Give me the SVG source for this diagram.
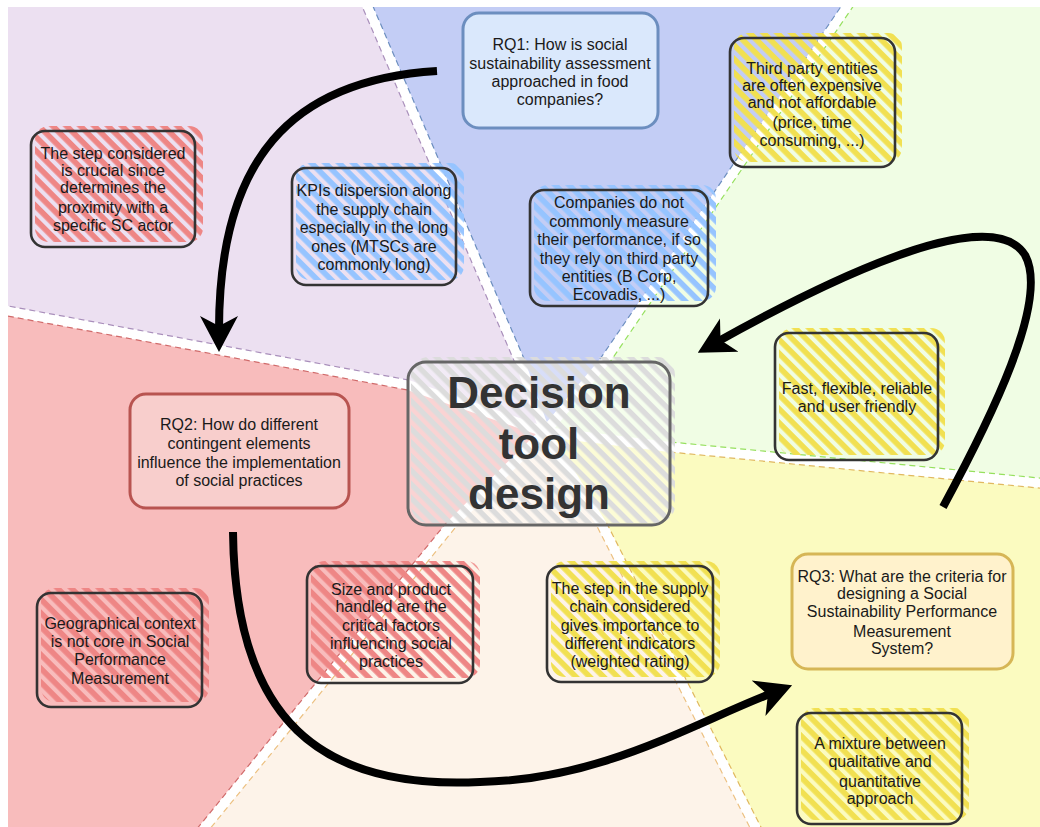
<svg xmlns="http://www.w3.org/2000/svg" width="1040" height="827" viewBox="0 0 1040 827">
<defs>
<style>
.t{font-family:"Liberation Sans",Arial,Helvetica,sans-serif;font-size:16px;fill:#1a1a1a;text-anchor:middle}
.big{font-size:44px;font-weight:bold;fill:#333}
.box{fill:none;stroke:#333;stroke-width:2.6}
.gap{fill:none;stroke:#fff;stroke-width:10;stroke-linejoin:round}
.dash{fill:none;stroke-width:1.2;stroke-dasharray:6 4}
.arrow{fill:none;stroke:#000;stroke-width:8;marker-end:url(#ah)}
</style>
<clipPath id="bg"><rect x="8" y="7" width="1032" height="820"/></clipPath>
<pattern id="hRed" patternUnits="userSpaceOnUse" width="9.8" height="9.8" patternTransform="rotate(45)"><rect width="9.8" height="5.6" fill="#ee8685"/></pattern>
<pattern id="hBlue" patternUnits="userSpaceOnUse" width="9.8" height="9.8" patternTransform="rotate(45)"><rect width="9.8" height="5.6" fill="#96c4ff"/></pattern>
<pattern id="hYel" patternUnits="userSpaceOnUse" width="9.8" height="9.8" patternTransform="rotate(45)"><rect width="9.8" height="5.6" fill="#f1e052"/></pattern>
<pattern id="hGray" patternUnits="userSpaceOnUse" width="9.8" height="9.8" patternTransform="rotate(45)"><rect width="9.8" height="5.4" fill="#dcdcdc"/></pattern>
<marker id="ah" markerUnits="userSpaceOnUse" markerWidth="40" markerHeight="44" viewBox="0 0 40 44" refX="14" refY="22" orient="auto"><path d="M0,3 L36,22 L0,41 L10,22 Z" fill="#000"/></marker>
</defs>

<g id="background" clip-path="url(#bg)">
<polygon fill="#ece0f1" points="545,432 408,385 -30,304 -40,-40 352,-30 520,362"/>
<polygon fill="#c3cdf5" points="545,432 520,362 352,-30 872,-30 604,362"/>
<polygon fill="#f0fde4" points="545,432 604,362 872,-30 1100,-40 1080,487 670,447"/>
<polygon fill="#fbfbc0" points="545,432 670,447 1080,487 1100,900 772,860 602,525"/>
<polygon fill="#fdf3e9" points="545,432 602,525 772,860 178,860 451,525"/>
<polygon fill="#f8bcbc" points="545,432 451,525 178,860 -40,900 -30,304 408,385"/>
<polyline class="gap" points="545,432 520,362 352,-30"/>
<polyline class="gap" points="545,432 604,362 872,-30"/>
<polyline class="gap" points="545,432 670,447 1080,487"/>
<polyline class="gap" points="545,432 602,525 772,860"/>
<polyline class="gap" points="545,432 451,525 178,860"/>
<polyline class="gap" points="545,432 408,385 -30,304"/>
<line class="dash" stroke="#6c8ebf" x1="524.6" y1="360" x2="356.6" y2="-32"/>
<line class="dash" stroke="#a98fbb" x1="515.4" y1="364" x2="347.4" y2="-28"/>
<line class="dash" stroke="#96e05e" x1="608.1" y1="364.8" x2="876.1" y2="-27.2"/>
<line class="dash" stroke="#6c8ebf" x1="599.9" y1="359.2" x2="867.9" y2="-32.8"/>
<line class="dash" stroke="#e0b860" x1="669.5" y1="452" x2="1079.5" y2="492"/>
<line class="dash" stroke="#96e05e" x1="670.5" y1="442" x2="1080.5" y2="482"/>
<line class="dash" stroke="#ecc080" x1="597.5" y1="527.3" x2="767.5" y2="862.3"/>
<line class="dash" stroke="#e0b860" x1="606.5" y1="522.7" x2="776.5" y2="857.7"/>
<line class="dash" stroke="#d06a6a" x1="447.1" y1="521.8" x2="174.1" y2="856.8"/>
<line class="dash" stroke="#ecc080" x1="454.9" y1="528.2" x2="181.9" y2="863.2"/>
<line class="dash" stroke="#a98fbb" x1="408.9" y1="380.1" x2="-29.1" y2="299.1"/>
<line class="dash" stroke="#d06a6a" x1="407.1" y1="389.9" x2="-30.9" y2="308.9"/>
</g>

<g id="rq1">
<rect x="463" y="13" width="195" height="115" rx="16" fill="#dae8fc" stroke="#6c8ebf" stroke-width="3"/>
<text class="t"><tspan x="560" y="50">RQ1: How is social</tspan><tspan x="560" y="69">sustainability assessment</tspan><tspan x="560" y="87">approached in food</tspan><tspan x="560" y="105">companies?</tspan></text>
</g>

<g id="third-party">
<rect x="734" y="33" width="168" height="129" rx="14" fill="url(#hYel)"/>
<rect class="box" x="730" y="38" width="165" height="129" rx="14"/>
<text class="t"><tspan x="812" y="74">Third party entities</tspan><tspan x="812" y="91">are often expensive</tspan><tspan x="812" y="108">and not affordable</tspan><tspan x="812" y="128">(price, time</tspan><tspan x="812" y="146">consuming, ...)</tspan></text>
</g>

<g id="step-crucial">
<rect x="35" y="126" width="168" height="116" rx="14" fill="url(#hRed)"/>
<rect class="box" x="31" y="131" width="164" height="116" rx="14"/>
<text class="t"><tspan x="113" y="159">The step considered</tspan><tspan x="113" y="176">is crucial since</tspan><tspan x="113" y="193">determines the</tspan><tspan x="113" y="213">proximity with a</tspan><tspan x="113" y="231">specific SC actor</tspan></text>
</g>

<g id="kpis">
<rect x="296" y="163" width="168" height="117" rx="14" fill="url(#hBlue)"/>
<rect class="box" x="292" y="168" width="164" height="117" rx="14"/>
<text class="t"><tspan x="374" y="196">KPIs dispersion along</tspan><tspan x="374" y="215">the supply chain</tspan><tspan x="374" y="233">especially in the long</tspan><tspan x="374" y="252">ones (MTSCs are</tspan><tspan x="374" y="270">commonly long)</tspan></text>
</g>

<g id="companies">
<rect x="534" y="185" width="182" height="116" rx="14" fill="url(#hBlue)"/>
<rect class="box" x="530" y="190" width="178" height="116" rx="14"/>
<text class="t"><tspan x="619" y="208">Companies do not</tspan><tspan x="619" y="227">commonly measure</tspan><tspan x="619" y="245">their performance, if so</tspan><tspan x="619" y="264">they rely on third party</tspan><tspan x="619" y="282">entities (B Corp,</tspan><tspan x="619" y="300">Ecovadis, ...)</tspan></text>
</g>

<g id="decision-tool">
<rect x="408" y="362" width="262" height="163" rx="18" fill="#fff" fill-opacity="0.35"/>
<rect x="411" y="357" width="264" height="166" rx="18" fill="url(#hGray)"/>
<rect x="408" y="362" width="262" height="163" rx="18" fill="none" stroke="#666" stroke-width="3"/>
<text class="t big"><tspan x="539" y="408">Decision</tspan><tspan x="539" y="459">tool</tspan><tspan x="539" y="509">design</tspan></text>
</g>

<g id="fast">
<rect x="779" y="328" width="166" height="127" rx="14" fill="url(#hYel)"/>
<rect class="box" x="775" y="333" width="163" height="127" rx="14"/>
<text class="t"><tspan x="857" y="394">Fast, flexible, reliable</tspan><tspan x="857" y="412">and user friendly</tspan></text>
</g>

<g id="rq2">
<rect x="130" y="394" width="219" height="114" rx="16" fill="#f8cecc" stroke="#b85450" stroke-width="3"/>
<text class="t"><tspan x="239" y="430">RQ2: How do different</tspan><tspan x="239" y="449">contingent elements</tspan><tspan x="239" y="468">influence the implementation</tspan><tspan x="239" y="486">of social practices</tspan></text>
</g>

<g id="geographical">
<rect x="41" y="588" width="168" height="114" rx="14" fill="url(#hRed)"/>
<rect class="box" x="37" y="593" width="165" height="114" rx="14"/>
<text class="t"><tspan x="120" y="629">Geographical context</tspan><tspan x="120" y="647">is not core in Social</tspan><tspan x="120" y="665">Performance</tspan><tspan x="120" y="684">Measurement</tspan></text>
</g>

<g id="size-product">
<rect x="311" y="561" width="169" height="117" rx="14" fill="url(#hRed)"/>
<rect class="box" x="307" y="566" width="166" height="117" rx="14"/>
<text class="t"><tspan x="391" y="595">Size and product</tspan><tspan x="391" y="612">handled are the</tspan><tspan x="391" y="631">critical factors</tspan><tspan x="391" y="649">influencing social</tspan><tspan x="391" y="667">practices</tspan></text>
</g>

<g id="step-supply">
<rect x="551" y="561" width="169" height="116" rx="14" fill="url(#hYel)"/>
<rect class="box" x="547" y="566" width="166" height="116" rx="14"/>
<text class="t"><tspan x="630" y="594">The step in the supply</tspan><tspan x="630" y="612">chain considered</tspan><tspan x="630" y="631">gives importance to</tspan><tspan x="630" y="649">different indicators</tspan><tspan x="630" y="667">(weighted rating)</tspan></text>
</g>

<g id="rq3">
<rect x="792" y="554" width="221" height="115" rx="16" fill="#fff2cc" stroke="#d6b656" stroke-width="3"/>
<text class="t"><tspan x="902" y="582">RQ3: What are the criteria for</tspan><tspan x="902" y="599">designing a Social</tspan><tspan x="902" y="617">Sustainability Performance</tspan><tspan x="902" y="637">Measurement</tspan><tspan x="902" y="654">System?</tspan></text>
</g>

<g id="mixture">
<rect x="801" y="708" width="168" height="112" rx="14" fill="url(#hYel)"/>
<rect class="box" x="797" y="713" width="165" height="111" rx="14"/>
<text class="t"><tspan x="880" y="749">A mixture between</tspan><tspan x="880" y="767">qualitative and</tspan><tspan x="880" y="787">quantitative</tspan><tspan x="880" y="804">approach</tspan></text>
</g>

<g id="connectors">
<path class="arrow" d="M437,71 C290,80 219,160 219,330"/>
<path class="arrow" d="M233,532 C235,720 320,790 480,782 C600,780 690,725 771.6,693.2"/>
<path class="arrow" d="M943,507 C990,420 1050,300 1025,255 C1000,215 900,240 717,342"/>
</g>
</svg>
